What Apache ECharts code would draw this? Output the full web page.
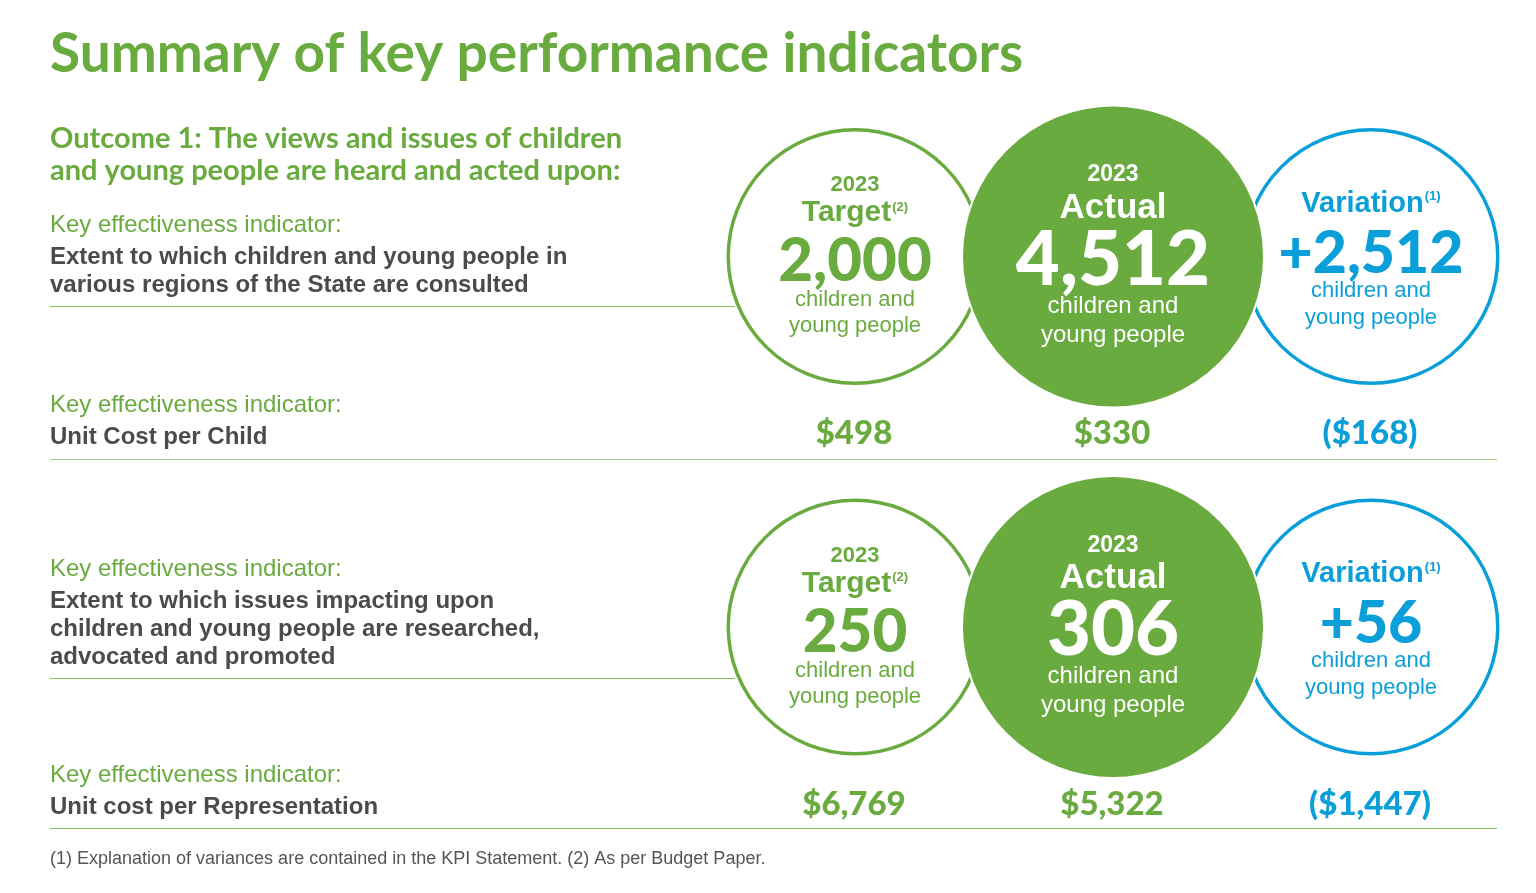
<!DOCTYPE html>
<html>
<head>
<meta charset="utf-8">
<script src="https://cdn.jsdelivr.net/npm/echarts@6/dist/echarts.min.js"></script>
<style>
  html, body { margin: 0; padding: 0; background: #ffffff; }
  #chart { width: 1536px; height: 893px; }
</style>
</head>
<body>
<div id="chart"></div>
<script>
// ---------- data ----------
const columns = ['Target', 'Actual', 'Variation'];
const rows = ['Children and young people consulted', 'Issues researched, advocated and promoted'];
const year = '2023';
const targetValues = [2000, 250];
const actualValues = [4512, 306];
const variationValues = [2512, 56];
const unitCostTarget = [498, 6769];
const unitCostActual = [330, 5322];
const unitCostVariation = [-168, -1447];
const unitText = ['children and', 'young people'];

const title = 'Summary of key performance indicators';
const outcomeLines = ['Outcome 1: The views and issues of children', 'and young people are heard and acted upon:'];
const kpiLabel = 'Key effectiveness indicator:';
const indicator1Lines = ['Extent to which children and young people in', 'various regions of the State are consulted'];
const unitCost1Label = 'Unit Cost per Child';
const indicator2Lines = ['Extent to which issues impacting upon', 'children and young people are researched,', 'advocated and promoted'];
const unitCost2Label = 'Unit cost per Representation';
const footnote = '(1) Explanation of variances are contained in the KPI Statement. (2) As per Budget Paper.';

// ---------- styles ----------
const GREEN = '#69ab3e';
const BLUE = '#0b9fda';
const DARK = '#4b4b4d';
const ARIAL = '"Liberation Sans", Arial, sans-serif';
const HUM = 'Lato, "Open Sans", sans-serif';

const fmt = v => v.toLocaleString('en-US');
const fmtMoney = v => v < 0 ? '($' + fmt(-v) + ')' : '$' + fmt(v);
const fmtVar = v => (v >= 0 ? '+' : '-') + fmt(Math.abs(v));

const chart = echarts.init(document.getElementById('chart'), null, { renderer: 'canvas' });

function txt(text, x, y, size, weight, color, family) {
  return {
    type: 'text', silent: true,
    style: {
      text: text, x: x, y: y,
      font: (weight || 'normal') + ' ' + size + 'px ' + (family || ARIAL),
      fill: color, align: 'left', verticalAlign: 'middle'
    }
  };
}
function hline(x1, x2, y, color) {
  return { type: 'line', silent: true, shape: { x1: x1, y1: y, x2: x2, y2: y }, style: { stroke: color, lineWidth: 1.2 } };
}

const graphics = [
  txt(title, 50, 54, 55, 'bold', GREEN, HUM),
  txt(outcomeLines[0], 50, 139, 29, 'bold', GREEN, HUM),
  txt(outcomeLines[1], 50, 171, 29, 'bold', GREEN, HUM),
  txt(kpiLabel, 50, 225, 24, 'normal', GREEN),
  txt(indicator1Lines[0], 50, 257, 24, 'bold', DARK),
  txt(indicator1Lines[1], 50, 285, 24, 'bold', DARK),
  hline(50, 735, 306.5, '#86bf60'),
  txt(kpiLabel, 50, 405, 24, 'normal', GREEN),
  txt(unitCost1Label, 50, 437, 24, 'bold', DARK),
  hline(50, 1497, 459.5, '#a6cf8a'),
  txt(kpiLabel, 50, 569, 24, 'normal', GREEN),
  txt(indicator2Lines[0], 50, 601, 24, 'bold', DARK),
  txt(indicator2Lines[1], 50, 629, 24, 'bold', DARK),
  txt(indicator2Lines[2], 50, 657, 24, 'bold', DARK),
  hline(50, 735, 678.5, '#86bf60'),
  txt(kpiLabel, 50, 775, 24, 'normal', GREEN),
  txt(unitCost2Label, 50, 807, 24, 'bold', DARK),
  hline(50, 1497, 828.5, '#86bf60'),
  txt(footnote, 50, 859, 18, 'normal', '#555557')
];

const targetData = targetValues.map((v, i) => ({ value: [columns[0], rows[i]], num: v }));
const actualData = actualValues.map((v, i) => ({ value: [columns[1], rows[i]], num: v }));
const variationData = variationValues.map((v, i) => ({ value: [columns[2], rows[i]], num: v }));

const costData = [];
rows.forEach((r, i) => {
  costData.push({ value: [columns[0], r], cost: unitCostTarget[i], color: GREEN });
  costData.push({ value: [columns[1], r], cost: unitCostActual[i], color: GREEN });
  costData.push({ value: [columns[2], r], cost: unitCostVariation[i], color: BLUE });
});

const option = {
  animation: false,
  backgroundColor: '#ffffff',
  grid: { left: 726, right: 36, top: 71.25, bottom: 80.75 },
  xAxis: { type: 'category', data: columns, show: false, boundaryGap: true },
  yAxis: { type: 'category', data: rows, show: false, inverse: true, boundaryGap: true },
  graphic: graphics,
  series: [
    {
      name: 'Target', type: 'scatter', z: 2,
      symbol: 'circle', symbolSize: 253.5,
      itemStyle: { color: '#ffffff', borderColor: GREEN, borderWidth: 3.5, opacity: 1 },
      data: targetData,
      label: {
        show: true, position: 'inside', offset: [0, 3.5],
        formatter: p => '{yr|' + year + '}\n{hd|' + columns[0] + '}{sup|(2)}\n{num|' + fmt(p.data.num) + '}\n{sub|' + unitText[0] + '}\n{sub|' + unitText[1] + '}',
        rich: {
          yr: { fontFamily: ARIAL, fontWeight: 'bold', fontSize: 22, color: GREEN, lineHeight: 8 },
          hd: { fontFamily: ARIAL, fontWeight: 'bold', fontSize: 30, color: GREEN, lineHeight: 48 },
          sup: { fontFamily: ARIAL, fontWeight: 'bold', fontSize: 13, color: GREEN, padding: [0, 0, 12, 1] },
          num: { fontFamily: HUM, fontWeight: 900, fontSize: 60, color: GREEN, lineHeight: 50 },
          sub: { fontFamily: ARIAL, fontSize: 22, color: GREEN, lineHeight: 26 }
        }
      }
    },
    {
      name: 'Variation', type: 'scatter', z: 2,
      symbol: 'circle', symbolSize: 253.5,
      itemStyle: { color: '#ffffff', borderColor: BLUE, borderWidth: 3.5, opacity: 1 },
      data: variationData,
      label: {
        show: true, position: 'inside', offset: [0, -2.5],
        formatter: p => '{hd|' + columns[2] + '}{sup|(1)}\n{num|' + fmtVar(p.data.num) + '}\n{sub|' + unitText[0] + '}\n{sub|' + unitText[1] + '}',
        rich: {
          hd: { fontFamily: ARIAL, fontWeight: 'bold', fontSize: 29, color: BLUE, lineHeight: 53 },
          sup: { fontFamily: ARIAL, fontWeight: 'bold', fontSize: 13, color: BLUE, padding: [0, 0, 14, 1] },
          num: { fontFamily: HUM, fontWeight: 900, fontSize: 59, color: BLUE, lineHeight: 47 },
          sub: { fontFamily: ARIAL, fontSize: 22, color: BLUE, lineHeight: 27 }
        }
      }
    },
    {
      name: 'Actual', type: 'scatter', z: 3,
      symbol: 'circle', symbolSize: 302,
      itemStyle: { color: GREEN, borderColor: '#ffffff', borderWidth: 2, opacity: 1 },
      data: actualData,
      label: {
        show: true, position: 'inside', offset: [0, -0.5],
        formatter: p => '{yr|' + year + '}\n{hd|' + columns[1] + '}\n{num|' + fmt(p.data.num) + '}\n{sub|' + unitText[0] + '}\n{sub|' + unitText[1] + '}',
        rich: {
          yr: { fontFamily: ARIAL, fontWeight: 'bold', fontSize: 23, color: '#ffffff', lineHeight: 25 },
          hd: { fontFamily: ARIAL, fontWeight: 'bold', fontSize: 35, color: '#ffffff', lineHeight: 41 },
          num: { fontFamily: HUM, fontWeight: 900, fontSize: 76, color: '#ffffff', lineHeight: 63 },
          sub: { fontFamily: ARIAL, fontSize: 24, color: '#ffffff', lineHeight: 29 }
        }
      }
    },
    {
      name: 'Unit cost', type: 'scatter', z: 4,
      symbol: 'circle', symbolSize: 1,
      itemStyle: { color: 'rgba(0,0,0,0)', opacity: 1 },
      data: costData,
      label: {
        show: true, position: 'inside', offset: [-1, 177], opacity: 1,
        formatter: p => '{c' + (p.data.color === BLUE ? 'b' : 'g') + '|' + fmtMoney(p.data.cost) + '}',
        rich: {
          cg: { fontFamily: HUM, fontWeight: 900, fontSize: 33, color: GREEN },
          cb: { fontFamily: HUM, fontWeight: 900, fontSize: 33, color: BLUE }
        }
      }
    }
  ]
};
chart.setOption(option);
</script>
</body>
</html>
